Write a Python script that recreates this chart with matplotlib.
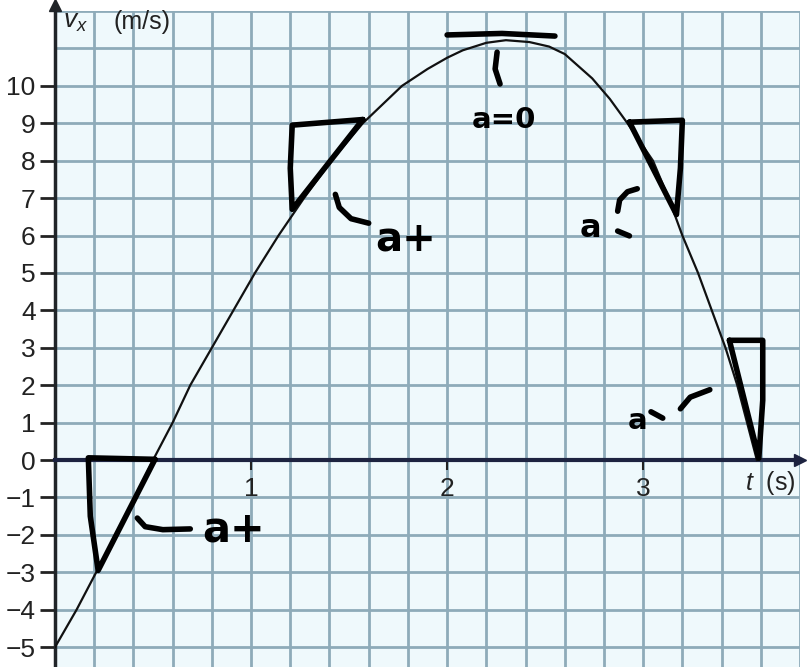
import numpy as np
import matplotlib.pyplot as plt
from matplotlib.ticker import MultipleLocator

plt.rcParams['font.family'] = ['Liberation Sans', 'DejaVu Sans']
plt.rcParams['mathtext.fontset'] = 'custom'
plt.rcParams['mathtext.it'] = 'Liberation Sans:italic'
plt.rcParams['mathtext.rm'] = 'Liberation Sans'

# velocity curve
t_s = [0.0, 0.11, 0.21, 0.31, 0.41, 0.50, 0.60, 0.69, 0.80, 0.91, 1.02, 1.14,
       1.27, 1.41, 1.57, 1.77, 1.90, 2.00, 2.08, 2.20, 2.30, 2.42, 2.52, 2.60,
       2.74, 2.83, 2.92, 3.05, 3.13, 3.20, 3.28, 3.35, 3.42, 3.48, 3.53, 3.58]
v_ms = [-5.0, -4.0, -3.0, -2.0, -1.0, 0.0, 1.0, 2.0, 3.0, 4.0, 5.0, 6.0,
        7.0, 8.0, 9.0, 10.0, 10.45, 10.75, 10.95, 11.15, 11.22, 11.17, 11.05, 10.85,
        10.2, 9.65, 9.0, 8.0, 7.0, 6.0, 5.0, 4.0, 3.0, 2.0, 1.0, 0.0]

y_ticks = list(range(-5, 11))
x_ticks = [1, 2, 3]

# hand-drawn marks (tangent triangles and notes)
tri_1 = [(0.51, 0.02), (0.17, 0.06), (0.18, -1.5), (0.22, -2.95), (0.51, 0.02)]
tri_2 = [(1.57, 9.1), (1.21, 8.95), (1.20, 7.8), (1.21, 6.7), (1.57, 9.1)]
tri_3 = [(2.93, 9.03), (3.2, 9.08), (3.19, 7.8), (3.17, 6.56), (2.93, 9.03)]
tri_4 = [(3.44, 3.2), (3.61, 3.2), (3.61, 1.6), (3.59, 0.05), (3.44, 3.2)]
peak_tangent = [(2.0, 11.36), (2.28, 11.4), (2.55, 11.33)]

stroke_1 = [(0.42, -1.55), (0.46, -1.78), (0.55, -1.86), (0.69, -1.84)]
stroke_2 = [(1.43, 7.1), (1.45, 6.75), (1.51, 6.45), (1.6, 6.33)]
stroke_3 = [(2.87, 6.65), (2.88, 6.95), (2.92, 7.17), (2.97, 7.25)]
stroke_4 = [(3.19, 1.37), (3.24, 1.68), (3.34, 1.88)]
stroke_peak = [(2.255, 10.9), (2.245, 10.45), (2.27, 10.05)]
dash_3 = [(2.87, 6.12), (2.93, 5.99)]
dash_4 = [(3.04, 1.29), (3.10, 1.12)]

fig = plt.figure(figsize=(8.07, 6.67), dpi=100)
ax = fig.add_axes([55 / 807, 0, 745 / 807, 1 - 11 / 667])
ax.set_xlim(0, 3.8)
ax.set_ylim(-5.53, 12.0)
ax.set_facecolor('#eff9fc')

# graph paper
ax.xaxis.set_minor_locator(MultipleLocator(0.2))
ax.yaxis.set_minor_locator(MultipleLocator(1))
ax.grid(which='both', color='#8eabb9', lw=2.0)
ax.tick_params(which='minor', length=0)

for side in ['top', 'right']:
    ax.spines[side].set_visible(False)
ax.spines['bottom'].set_position(('data', 0))
ax.spines['bottom'].set_color('#1d2340')
ax.spines['bottom'].set_linewidth(3)
ax.spines['left'].set_color('#202428')
ax.spines['left'].set_linewidth(2.5)
ax.plot(1, 0, '>', color='#1d2340', ms=9, transform=ax.get_yaxis_transform(), clip_on=False)
ax.plot(0, 12.15, '^', color='#202428', ms=9, clip_on=False)

ax.set_yticks(y_ticks)
ax.set_xticks(x_ticks)
ax.set_xticklabels([str(x) for x in x_ticks])
ax.tick_params(axis='y', which='major', length=11, width=2, pad=3, labelsize=19,
               colors='#222', direction='out')
ax.tick_params(axis='x', which='major', length=7, width=1.5, pad=5, labelsize=19,
               colors='#222', direction='out')

ax.text(0.04, 11.7, r'$\mathit{v}_{x}$', fontsize=19, color='#222', va='center')
ax.text(0.30, 11.7, '(m/s)', fontsize=18, color='#222', va='center')
ax.text(3.52, -0.62, r'$\mathit{t}$  (s)', fontsize=18, color='#222', va='center')

# the curve
ax.plot(t_s, v_ms, color='#111', lw=1.6, zorder=3)

ink = dict(color='black', lw=4, solid_capstyle='round', solid_joinstyle='round', zorder=4)
for shape in [tri_1, tri_2, tri_3, tri_4, peak_tangent, stroke_1, stroke_2, stroke_3,
              stroke_4, stroke_peak, dash_3, dash_4]:
    xs, ys = zip(*shape)
    ax.plot(xs, ys, **ink)

hand = dict(color='black', fontweight='bold', family='DejaVu Sans', ha='center',
            va='center', zorder=5)
ax.text(0.91, -1.85, 'a+', fontsize=30, **hand)
ax.text(1.79, 5.9, 'a+', fontsize=29, **hand)
ax.text(2.29, 9.1, 'a=0', fontsize=21, **hand)
ax.text(2.73, 6.2, 'a', fontsize=23, **hand)
ax.text(2.97, 1.05, 'a', fontsize=21, **hand)

fig.savefig('out.png', dpi=100)
